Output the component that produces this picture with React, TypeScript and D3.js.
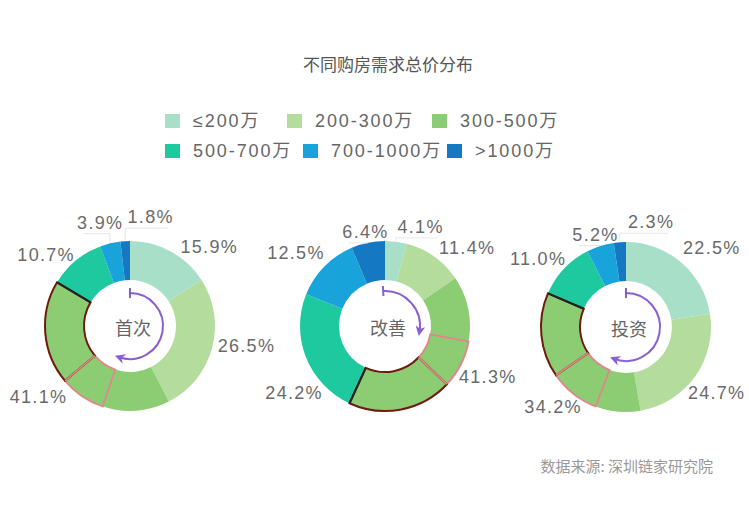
import React from 'react';
import * as d3 from 'd3';

const title = '不同购房需求总价分布';
const source = '数据来源: 深圳链家研究院';
const categories = ['≤200万', '200-300万', '300-500万', '500-700万', '700-1000万', '>1000万'];
const colors = ['#a8dfc8', '#b3dc9d', '#8ccd73', '#1fc9a0', '#18a4db', '#1479c2'];
const groups = ['首次', '改善', '投资'];
const firstBuy = [15.9, 26.5, 41.1, 10.7, 3.9, 1.8];
const upgrade = [4.1, 11.4, 41.3, 24.2, 12.5, 6.4];
const invest = [22.5, 24.7, 34.2, 11.0, 5.2, 2.3];
const seriesValues = [firstBuy, upgrade, invest];

// layout
const W = 749, H = 510;
const centers = [[130, 326], [385, 326], [626, 327]];
const outerR = 85, innerR = 46, labelR = 97;
const labelAdjust: [number, number, string?][][] = [
  [[4, 6], [-6, -5], [8, 5], [7, 3], [16, -9], [3, -12, 'start']],
  [[0, -3], [-2, 1], [0, -12], [28, 31], [9, -5], [23, 1]],
  [[-6, -5], [-17, 10], [32, 20], [11, -2], [22, 0], [9, -8, 'start']],
];
// highlight fractions within the 300-500 slice: [pinkStart, darkStart]
const highlightFrac = [[0.31, 0.52], [0.30, 0.52], [0.25, 0.53]];
// purple arrow arcs: [startDeg, endDeg, radius]
const arrowArcs = [[0, 200, 33], [-3, 100, 35], [0, 201, 34]];
const legendRows = [[0, 1, 2], [3, 4, 5]];
const legendX = [[165, 287, 432], [165, 303, 447]];
const legendY = [121, 151];

const latin = '"Liberation Sans", Arial, "Noto Sans CJK SC", sans-serif';
const cjk = '"Noto Sans CJK SC", "Liberation Sans", sans-serif';

const pie = d3.pie<number>().sort(null).value((d) => d);
const arc = d3.arc<any>().innerRadius(innerR).outerRadius(outerR);
const pt = (a: number, r: number) => [r * Math.sin(a), -r * Math.cos(a)];

function arrowPath(a0: number, a1: number, r: number) {
  const p = d3.path();
  const s = pt(a0, r);
  p.moveTo(s[0], s[1]);
  p.arc(0, 0, r, a0 - Math.PI / 2, a1 - Math.PI / 2, false);
  return p.toString();
}

export default function App() {
  return (
    <svg width={W} height={H} style={{ position: 'absolute', left: 0, top: 0, background: '#fff' }}>
      <defs>
        <marker id="arrowHead" viewBox="0 0 10 10" refX="6" refY="5" markerWidth="5" markerHeight="5" orient="auto">
          <path d="M0,0 L10,5 L0,10 L3,5 Z" fill="#8a5fd2" />
        </marker>
      </defs>
      <text x={388} y={63} textAnchor="middle" dominantBaseline="central" fontFamily={cjk} fontSize={17} fill="#555">{title}</text>
      {legendRows.map((row, ri) =>
        row.map((ci, k) => (
          <g key={ci} transform={`translate(${legendX[ri][k]},${legendY[ri]})`}>
            <rect x={0} y={-7} width={15} height={14} fill={colors[ci]} />
            <text x={28} y={0} dominantBaseline="central" fontFamily={latin} fontSize={18} letterSpacing={1.9} fill="#666">{categories[ci]}</text>
          </g>
        ))
      )}
      {seriesValues.map((vals, gi) => {
        const [cx, cy] = centers[gi];
        const arcs = pie(vals);
        const g = arcs[2];
        const span = g.endAngle - g.startAngle;
        const pinkA = g.startAngle + span * highlightFrac[gi][0];
        const darkA = g.startAngle + span * highlightFrac[gi][1];
        const endPt0 = pt(g.endAngle, innerR);
        const endPt1 = pt(g.endAngle, outerR);
        const [ad0, ad1, ar] = arrowArcs[gi];
        const a0 = (ad0 * Math.PI) / 180, a1 = (ad1 * Math.PI) / 180;
        const t0 = pt(a0, ar - 5), t1 = pt(a0, ar + 5);
        return (
          <g key={gi} transform={`translate(${cx},${cy})`}>
            {arcs.map((a, i) => (
              <path key={i} d={arc(a) as string} fill={colors[i]} />
            ))}
            <path d={arc({ startAngle: pinkA, endAngle: darkA }) as string} fill="none" stroke="#e0878a" strokeWidth={1.8} />
            <path d={arc({ startAngle: darkA, endAngle: g.endAngle }) as string} fill="none" stroke="#6e1c10" strokeWidth={2} />
            <path d={`M${pt(darkA, innerR)}L${pt(darkA, outerR)}`} stroke="#d98a82" strokeWidth={1.8} />
            <line x1={endPt0[0]} y1={endPt0[1]} x2={endPt1[0]} y2={endPt1[1]} stroke="#222" strokeWidth={2} />
            {arcs.map((a, i) => {
              const mid = (a.startAngle + a.endAngle) / 2;
              const [bx, by] = pt(mid, labelR);
              const adj = labelAdjust[gi][i];
              const anchor = adj[2] || (mid < Math.PI ? 'start' : 'end');
              const x = bx + adj[0], y = by + adj[1];
              const small = vals[i] < 7;
              const p0 = pt(mid, outerR + 1);
              return (
                <g key={'l' + i}>
                  {small && (
                    <polyline
                      points={`${p0[0]},${p0[1]} ${p0[0]},${y + 11} ${anchor === 'end' ? x - 40 : x + 40},${y + 11}`}
                      fill="none" stroke="#e6e6e6" strokeWidth={1} />
                  )}
                  <text x={x} y={y} textAnchor={anchor} dominantBaseline="central" fontFamily={latin} fontSize={18} letterSpacing={1.3} fill="#6a6a6a">
                    {vals[i].toFixed(1)}%
                  </text>
                </g>
              );
            })}
            <path d={arrowPath(a0, a1, ar)} fill="none" stroke="#8a5fd2" strokeWidth={2} markerEnd="url(#arrowHead)" />
            <line x1={t0[0]} y1={t0[1]} x2={t1[0]} y2={t1[1]} stroke="#8a5fd2" strokeWidth={2} />
            <text x={3} y={1} textAnchor="middle" dominantBaseline="central" fontFamily={cjk} fontSize={18} fill="#666">{groups[gi]}</text>
          </g>
        );
      })}
      <text x={713} y={465} textAnchor="end" dominantBaseline="central" fontFamily={cjk} fontSize={15} fill="#999">{source}</text>
    </svg>
  );
}
